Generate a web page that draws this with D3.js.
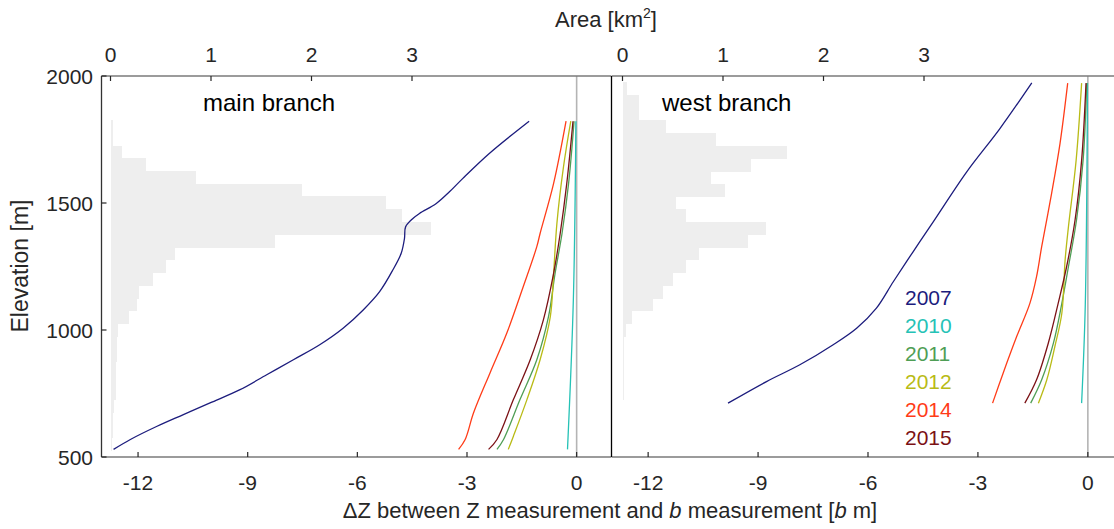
<!DOCTYPE html>
<html>
<head>
<meta charset="utf-8">
<script src="https://cdn.jsdelivr.net/npm/d3@7"></script>
<style>
  html, body { margin: 0; padding: 0; background: #fff; }
  svg text { font-family: "Liberation Sans", Arial, sans-serif; fill: #262626; }
</style>
</head>
<body>
<svg id="chart" width="1114" height="529"></svg>
<script>
// ---------------- DATA ----------------
const years = ["2007", "2010", "2011", "2012", "2014", "2015"];
const yearColors = ["#1c1c7d", "#25c2b6", "#4f9e55", "#b9bb16", "#ff3c18", "#7b1115"];

// Hypsometry (area per 50 m elevation bin), km²
const mainBinElev = [1800,1750,1700,1650,1600,1550,1500,1450,1400,1350,1300,1250,1200,1150,1100,1050,1000,950,900,850,800,750,700,650,600,550];
const mainBinArea = [0.02,0.025,0.11,0.353,0.851,1.91,2.74,2.90,3.19,1.64,0.645,0.552,0.426,0.287,0.26,0.187,0.078,0.065,0.06,0.058,0.055,0.055,0.03,0.025,0.02,0.015];
const westBinElev = [1950,1900,1850,1800,1750,1700,1650,1600,1550,1500,1450,1400,1350,1300,1250,1200,1150,1100,1050,1000,950,900,850,800,750];
const westBinArea = [0.04,0.168,0.168,0.436,0.93,1.64,1.28,0.88,1.02,0.535,0.634,1.43,1.25,0.76,0.634,0.50,0.40,0.30,0.096,0.03,0.013,0.013,0.012,0.01,0.01];

// Main branch ΔZ profiles: elevation (m) and ΔZ (b m)
const main2007Elev = [1822,1695,1596,1544,1498,1459,1439,1406,1361,1302,1236,1151,1079,1007,942,883,824,765,713,667,621,569,530];
const main2007Dz   = [-1.30,-2.39,-3.12,-3.48,-3.84,-4.30,-4.48,-4.68,-4.71,-4.80,-5.03,-5.39,-5.84,-6.39,-7.03,-7.75,-8.48,-9.21,-10.03,-10.76,-11.48,-12.21,-12.67];
const main2010Elev = [1822,1119,530];
const main2010Dz   = [-0.02,-0.09,-0.25];
const main2011Elev = [1822,1577,1380,1223,1053,883,726,569,530];
const main2011Dz   = [-0.07,-0.22,-0.40,-0.59,-0.77,-1.09,-1.55,-2.00,-2.18];
const main2012Elev = [1822,1642,1420,1223,1053,883,726,582,530];
const main2012Dz   = [-0.16,-0.36,-0.54,-0.63,-0.72,-1.00,-1.36,-1.73,-1.87];
const main2014Elev = [1822,1577,1380,1328,1171,988,831,674,569,530];
const main2014Dz   = [-0.29,-0.63,-1.00,-1.09,-1.46,-1.91,-2.37,-2.82,-3.05,-3.23];
const main2015Elev = [1822,1577,1380,1223,1040,883,726,569,530];
const main2015Dz   = [-0.10,-0.27,-0.45,-0.63,-0.91,-1.27,-1.73,-2.18,-2.41];

// West branch ΔZ profiles
const west2007Elev = [1973,1793,1622,1426,1308,1190,1086,1007,942,863,797,712];
const west2007Dz   = [-1.53,-2.40,-3.31,-4.22,-4.77,-5.31,-5.77,-6.31,-6.95,-7.86,-8.77,-9.82];
const west2010Elev = [1972,1099,712];
const west2010Dz   = [-0.01,-0.07,-0.17];
const west2011Elev = [1972,1668,1432,1249,1105,948,804,712];
const west2011Dz   = [-0.03,-0.13,-0.31,-0.53,-0.71,-0.94,-1.26,-1.56];
const west2012Elev = [1972,1668,1406,1276,1066,935,804,712];
const west2012Dz   = [-0.17,-0.32,-0.53,-0.62,-0.71,-0.90,-1.12,-1.35];
const west2014Elev = [1972,1734,1537,1328,1210,1106,975,831,712];
const west2014Dz   = [-0.55,-0.76,-0.99,-1.26,-1.40,-1.58,-1.94,-2.31,-2.60];
const west2015Elev = [1972,1668,1432,1249,1105,948,804,712];
const west2015Dz   = [-0.05,-0.17,-0.35,-0.58,-0.81,-1.08,-1.40,-1.72];

const dzTicks = [-12, -9, -6, -3, 0];
const areaTicks = [0, 1, 2, 3];
const elevTicks = [500, 1000, 1500, 2000];
const panelTitles = ["main branch", "west branch"];

// ---------------- DRAW ----------------
const svg = d3.select("#chart");
const plotTop = 76, plotBottom = 457;
const y = d3.scaleLinear().domain([500, 2000]).range([plotBottom, plotTop]);

const panels = [
  { x: d3.scaleLinear().domain([-13, 0.94]).range([101.5, 611]),
    a: d3.scaleLinear().domain([0, 4]).range([110.5, 512.5]),
    left: 101.5, right: 611, binE: mainBinElev, binA: mainBinArea,
    series: [[main2007Elev, main2007Dz],[main2010Elev, main2010Dz],[main2011Elev, main2011Dz],[main2012Elev, main2012Dz],[main2014Elev, main2014Dz],[main2015Elev, main2015Dz]],
    title: panelTitles[0], titleX: 203 },
  { x: d3.scaleLinear().domain([-13, 0.7]).range([611.5, 1113.5]),
    a: d3.scaleLinear().domain([0, 4]).range([622.5, 1024.5]),
    left: 611.5, right: 1114, binE: westBinElev, binA: westBinArea,
    series: [[west2007Elev, west2007Dz],[west2010Elev, west2010Dz],[west2011Elev, west2011Dz],[west2012Elev, west2012Dz],[west2014Elev, west2014Dz],[west2015Elev, west2015Dz]],
    title: panelTitles[1], titleX: 662 }
];

panels.forEach((p, pi) => {
  const g = svg.append("g");
  // histogram bars
  g.selectAll("rect.bin").data(p.binE.map((e, i) => ({ e, a: p.binA[i] })))
    .enter().append("rect")
    .attr("x", p.a(0))
    .attr("y", d => y(d.e + 25) - 0.3)
    .attr("width", d => p.a(d.a) - p.a(0))
    .attr("height", d => y(d.e - 25) - y(d.e + 25) + 0.6)
    .attr("fill", "#eeeeee")
    .attr("shape-rendering", "crispEdges");

  // zero reference line
  g.append("line")
    .attr("x1", p.x(0)).attr("x2", p.x(0))
    .attr("y1", plotTop).attr("y2", plotBottom)
    .attr("stroke", "#b4b4b4").attr("stroke-width", 1.6);

  // profile lines
  const line = d3.line().curve(d3.curveCatmullRom.alpha(0.5));
  p.series.forEach((s, si) => {
    const pts = s[0].map((e, i) => [p.x(s[1][i]), y(e)]);
    g.append("path").attr("d", line(pts))
      .attr("fill", "none").attr("stroke", yearColors[si]).attr("stroke-width", 1.3);
  });

  // frame lines
  g.append("line").attr("x1", p.left).attr("x2", p.right).attr("y1", plotTop).attr("y2", plotTop)
    .attr("stroke", "#7a7a7a").attr("stroke-width", 1.5);
  g.append("line").attr("x1", p.left).attr("x2", p.right).attr("y1", plotBottom).attr("y2", plotBottom)
    .attr("stroke", "#7a7a7a").attr("stroke-width", 1.5);
  g.append("line").attr("x1", p.left).attr("x2", p.left).attr("y1", plotTop).attr("y2", plotBottom)
    .attr("stroke", pi === 0 ? "#333" : "#000").attr("stroke-width", 1.3);

  // bottom ticks + labels
  dzTicks.forEach(t => {
    g.append("line").attr("x1", p.x(t)).attr("x2", p.x(t)).attr("y1", plotBottom).attr("y2", plotBottom - 5)
      .attr("stroke", "#262626").attr("stroke-width", 1.2);
    g.append("text").attr("x", p.x(t)).attr("y", 490).attr("text-anchor", "middle")
      .attr("font-size", 21).text(t);
  });
  // top ticks + labels
  areaTicks.forEach(t => {
    g.append("line").attr("x1", p.a(t)).attr("x2", p.a(t)).attr("y1", plotTop).attr("y2", plotTop + 5)
      .attr("stroke", "#262626").attr("stroke-width", 1.2);
    g.append("text").attr("x", p.a(t)).attr("y", 62).attr("text-anchor", "middle")
      .attr("font-size", 21).text(t);
  });
  // panel title
  g.append("text").attr("x", p.titleX).attr("y", 111).attr("font-size", 24)
    .style("fill", "#000").text(p.title);
});

// left y-axis ticks and labels
elevTicks.forEach(t => {
  svg.append("line").attr("x1", 101.5).attr("x2", 106.5).attr("y1", y(t)).attr("y2", y(t))
    .attr("stroke", "#262626").attr("stroke-width", 1.2);
  svg.append("text").attr("x", 93).attr("y", y(t) + 7.5).attr("text-anchor", "end")
    .attr("font-size", 21).text(t);
});

// axis titles
svg.append("text").attr("transform", "translate(28,266) rotate(-90)")
  .attr("text-anchor", "middle").attr("font-size", 23).text("Elevation [m]");

const at = svg.append("text").attr("x", 606).attr("y", 27).attr("text-anchor", "middle").attr("font-size", 22);
at.append("tspan").text("Area [km");
at.append("tspan").attr("font-size", 14).attr("dy", -9).text("2");
at.append("tspan").attr("dy", 9).text("]");

const bt = svg.append("text").attr("x", 610).attr("y", 518).attr("text-anchor", "middle").attr("font-size", 22);
bt.append("tspan").text("\u0394Z between Z measurement and ");
bt.append("tspan").attr("font-style", "italic").text("b");
bt.append("tspan").text(" measurement [");
bt.append("tspan").attr("font-style", "italic").text("b");
bt.append("tspan").text(" m]");

// legend
years.forEach((yr, i) => {
  svg.append("text").attr("x", 905).attr("y", 305 + i * 28).attr("font-size", 21)
    .style("fill", yearColors[i]).text(yr);
});
</script>
</body>
</html>
